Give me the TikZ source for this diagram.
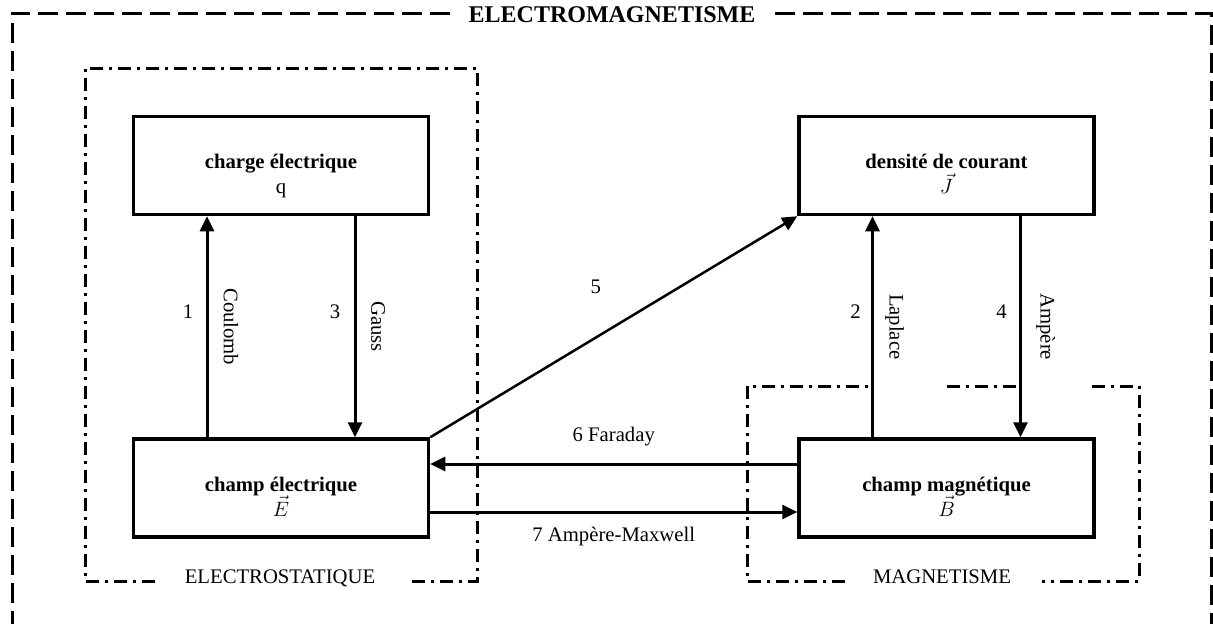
\documentclass[tikz,border=0pt]{standalone}
\usepackage{fontspec}
\setmainfont{Liberation Serif}
\usetikzlibrary{arrows.meta,positioning}
\newcommand{\boxstrut}{\rule{0pt}{38pt}}
\newcommand{\basestrut}{\rule[-7pt]{0pt}{7pt}}

\begin{document}
\begin{tikzpicture}[
  x=1pt, y=-1pt,
  font=\fontsize{20.7}{25}\selectfont,
  node distance=221pt and 367pt,
  quantity/.style={draw, line width=3.5pt, minimum width=295pt, minimum height=98pt, align=center, inner sep=0pt},
  flow/.style={-{Triangle[length=15pt,width=14pt]}, line width=3pt},
  thinflow/.style={-{Triangle[length=15pt,width=14pt]}, line width=2.5pt},
  outerframe/.style={line width=3pt, dash pattern=on 20pt off 8pt},
  domainbox/.style={line width=3pt, dash pattern=on 13pt off 6pt on 3pt off 6pt},
  lawlabel/.style={rotate=-90}
]
\useasboundingbox (0,0) rectangle (1213,624);

% grandeurs
\node[quantity] (charge) at (281,165.5) {\boxstrut\textbf{charge électrique}\\q\basestrut};
\node[quantity, below=of charge] (champE) {\boxstrut\textbf{champ électrique}\\$\vec{E}$\basestrut};
\node[quantity, right=of charge] (courant) {\boxstrut\textbf{densité de courant}\\$\vec{J}$\basestrut};
\node[quantity, below=of courant] (champB) {\boxstrut\textbf{champ magnétique}\\$\vec{B}$\basestrut};

% domaines
\node[font=\fontsize{24}{28}\selectfont\bfseries] (titre) at (612,15) {ELECTROMAGNETISME};
\draw[outerframe] (450,13) -- (12,13) -- (12,624);
\draw[outerframe] (775,13) -- (1211,13) -- (1211,624);

\node (statique) at (280,578) {ELECTROSTATIQUE};
\draw[domainbox] (155,581) -- (85,581) -- (85,68) -- (477,68) -- (477,581) -- (408,581);

\node (magnet) at (942,577) {MAGNETISME};
\draw[domainbox] (845,581) -- (747,581) -- (747,386) -- (868,386);
\draw[domainbox] (947,386) -- (1017,386);
\draw[domainbox] (1092,386) -- (1139,386) -- (1139,581) -- (1042,581);

% lois
\draw[flow] ([xshift=-74pt]champE.north) -- ([xshift=-74pt]charge.south)
  node[midway, xshift=-19pt, yshift=15pt] {1}
  node[midway, xshift=24pt, lawlabel] {Coulomb};
\draw[flow] ([xshift=74pt]charge.south) -- ([xshift=74pt]champE.north)
  node[midway, xshift=-20pt, yshift=15pt] {3}
  node[midway, xshift=23pt, lawlabel] {Gauss};
\draw[flow] ([xshift=-74pt]champB.north) -- ([xshift=-74pt]courant.south)
  node[midway, xshift=-17pt, yshift=15pt] {2}
  node[midway, xshift=22pt, lawlabel] {Laplace};
\draw[flow] ([xshift=74pt]courant.south) -- ([xshift=74pt]champB.north)
  node[midway, xshift=-19pt, yshift=15pt] {4}
  node[midway, xshift=25pt, lawlabel] {Ampère};
\draw[thinflow] (champE.north east) -- (courant.south west)
  node[midway, xshift=-18pt, yshift=40pt] {5};
\draw[flow] ([yshift=24pt]champB.west) -- ([yshift=24pt]champE.east)
  node[midway, yshift=27pt] {6 Faraday};
\draw[flow] ([yshift=-24pt]champE.east) -- ([yshift=-24pt]champB.west)
  node[midway, yshift=-24pt] {7 Ampère-Maxwell};
\end{tikzpicture}
\end{document}
